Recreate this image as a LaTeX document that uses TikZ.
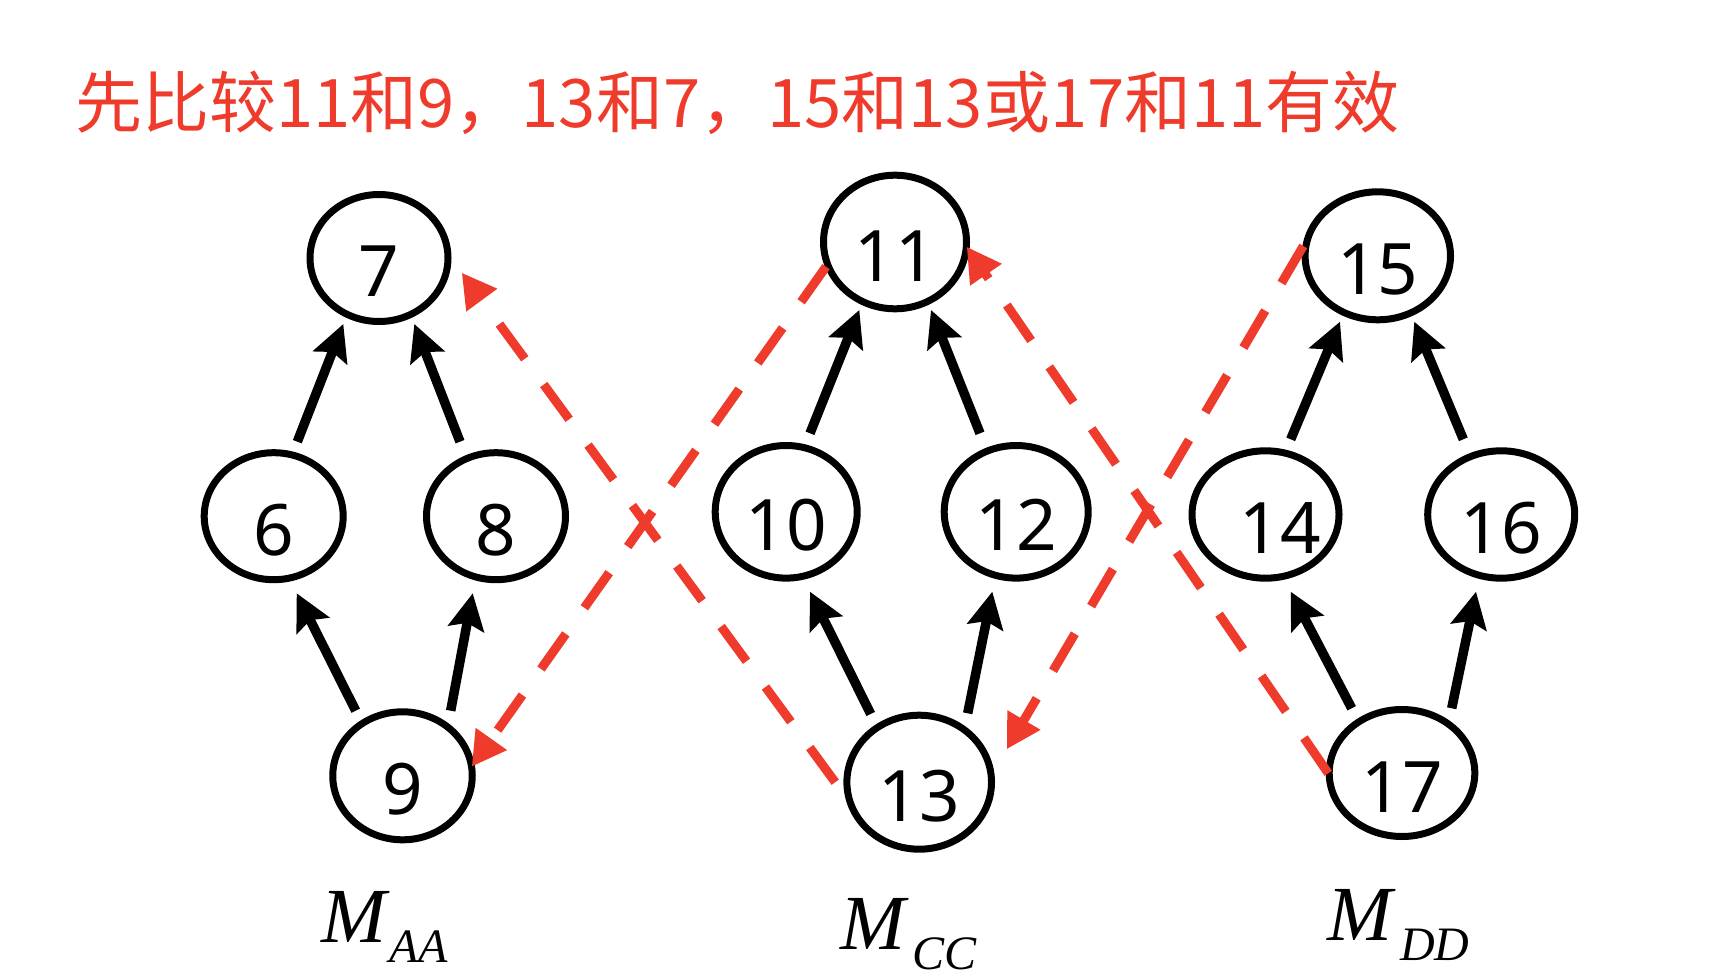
\documentclass[tikz,border=0pt]{standalone}
\usepackage{fontspec}
\setmainfont{Noto Sans}
\newfontfamily\cjkfont{Noto Sans CJK SC}
\newfontfamily\labelserif{Liberation Serif}
\usetikzlibrary{arrows.meta,calc,shapes.geometric}
\definecolor{cmpred}{RGB}{238,59,43}

\begin{document}
\begin{tikzpicture}[x=1pt,y=-1pt,
  vert/.style={ellipse, draw=black, line width=7pt, inner sep=0pt,
    minimum width=141pt, minimum height=129pt,
    font=\fontsize{71}{71}\selectfont, text height=78pt, text depth=0pt},
  up/.style={line width=9.5pt, -{Stealth[length=36pt,width=36pt,inset=6pt]}},
  cmp/.style={draw=cmpred, line width=9pt, dash pattern=on 43pt off 32pt,
    -{Triangle[length=34pt,width=36pt]}},
  grp/.style={anchor=base west, inner sep=0pt,
    font=\labelserif\itshape\fontsize{78}{78}\selectfont}
]
\useasboundingbox (0,0) rectangle (1734,976);

% title
\node[anchor=base west, inner sep=0pt, text=cmpred,
  font=\cjkfont\fontsize{67}{67}\selectfont] (title) at (75,127.7)
  {先比较11和9，13和7，15和13或17和11有效};

% group A
\node[vert, minimum width=138pt, minimum height=127pt] (n7) at (379,258) {7};
\node[vert, minimum width=139pt, minimum height=127pt] (n6) at (273.7,516.2) {6};
\node[vert, minimum width=139pt, minimum height=127pt] (n8) at (496,516.2) {8};
\node[vert, minimum width=139.5pt, minimum height=128pt] (n9) at (402.5,775.8) {9};

% group C
\node[vert, minimum width=143pt, minimum height=133.6pt] (n11) at (895,242) {11};
\node[vert, minimum width=142pt, minimum height=132.6pt] (n10) at (786.2,511.8) {10};
\node[vert, minimum width=144pt, minimum height=132.6pt] (n12) at (1016.2,511.8) {12};
\node[vert, minimum width=144.6pt, minimum height=134pt] (n13) at (919.2,782.2) {13};

% group D
\node[vert, minimum width=145.4pt, minimum height=128pt] (n15) at (1377.8,255.8) {15};
\node[vert, minimum width=147pt, minimum height=127.4pt] (n14) at (1265.5,514.5) {\makebox[0pt]{\hspace{30pt}14}};
\node[vert, minimum width=147pt, minimum height=127.4pt] (n16) at (1501.2,514.5) {16};
\node[vert, minimum width=145.6pt, minimum height=127pt] (n17) at (1402,773) {17};

% edges inside each group
\draw[up] ($(n6)+(23.6,-74.5)$) -- ($(n7)+(-35.7,66)$);
\draw[up] ($(n8)+(-36,-74.5)$) -- ($(n7)+(35.3,66)$);
\draw[up] ($(n9)+(-46.8,-65.1)$) -- ($(n6)+(23,77.1)$);
\draw[up] ($(n9)+(48.2,-65.1)$) -- ($(n8)+(-23.3,77.1)$);

\draw[up] ($(n10)+(23.8,-78.5)$) -- ($(n11)+(-35.7,68)$);
\draw[up] ($(n12)+(-36.2,-78.5)$) -- ($(n11)+(36,68)$);
\draw[up] ($(n13)+(-48.5,-68.2)$) -- ($(n10)+(23.8,79.9)$);
\draw[up] ($(n13)+(48.5,-68.9)$) -- ($(n12)+(-23.9,79.9)$);

\draw[up] ($(n14)+(25.2,-75.2)$) -- ($(n15)+(-37.8,65.9)$);
\draw[up] ($(n16)+(-37.9,-75.2)$) -- ($(n15)+(36.5,65.9)$);
\draw[up] ($(n17)+(-50.3,-64.7)$) -- ($(n14)+(25.2,77.2)$);
\draw[up] ($(n17)+(49.7,-64.7)$) -- ($(n16)+(-25.2,77.2)$);

% comparisons between groups
\draw[cmp] ($(n13)+(-84,0)$) -- ($(n7)+(82.7,14.7)$);
\draw[cmp] ($(n11)+(-69,24.7)$) -- ($(n9)+(69.2,-9.1)$);
\draw[cmp] ($(n15)+(-74.5,-9.8)$) -- ($(n13)+(87.5,-32.9)$);
\draw[cmp] ($(n17)+(-73.7,0.3)$) -- ($(n11)+(71.7,4.7)$);

% group names
\node[grp] (lA) at (321,942) {M\kern3pt\raisebox{-20pt}{\fontsize{48}{48}\selectfont AA}};
\node[grp] (lC) at (840.5,949) {M\kern7pt\raisebox{-20pt}{\fontsize{48}{48}\selectfont CC}};
\node[grp] (lD) at (1327,940) {M\kern8pt\raisebox{-20pt}{\fontsize{48}{48}\selectfont DD}};
\end{tikzpicture}
\end{document}
